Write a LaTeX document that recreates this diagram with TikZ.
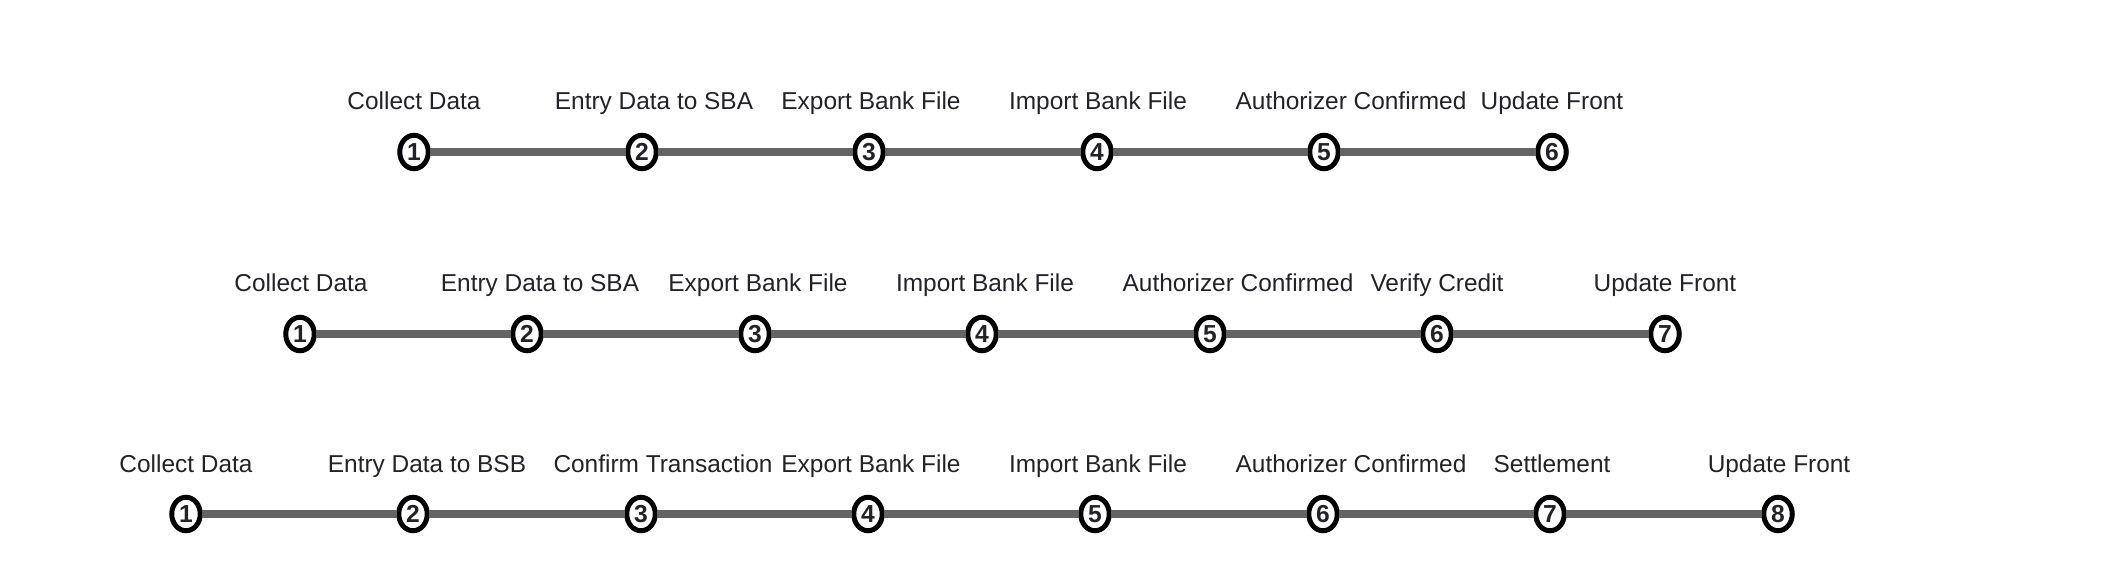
\documentclass[tikz,border=0pt]{standalone}
\usepackage{fontspec}
\setmainfont{Liberation Sans}
\usepackage{tikz}
\usetikzlibrary{shapes.geometric, positioning}
\definecolor{linkgray}{RGB}{100, 100, 100}
\definecolor{textdark}{RGB}{34, 34, 40}

\begin{document}
\begin{tikzpicture}[
    x=0.02cm, y=-0.02cm,
    stepdot/.style={draw=black, line width=0.1cm, fill=white, ellipse, inner sep=0pt, minimum width=0.57cm, minimum height=0.67cm, outer sep=0.03cm, font=\fontsize{14}{16}\selectfont\bfseries, text=textdark},
    steplabel/.style={font=\fontsize{13.9}{16}\selectfont, text=textdark, inner sep=0pt, text height=0.35cm, text depth=0cm},
    link/.style={draw=linkgray, line width=0.15cm},
]
    \useasboundingbox (0,0) rectangle (2110,588);

    % First flow
    \node[stepdot] (a1) at (414, 152) {1};
    \node[stepdot] (a2) at (642, 152) {2};
    \node[stepdot] (a3) at (869, 152) {3};
    \node[stepdot] (a4) at (1097, 152) {4};
    \node[stepdot] (a5) at (1324, 152) {5};
    \node[stepdot] (a6) at (1552, 152) {6};

    \node[steplabel] (la1) at (414, 101) {Collect Data};
    \node[steplabel] (la2) at (654, 101) {Entry Data to SBA};
    \node[steplabel] (la3) at (871, 101) {Export Bank File};
    \node[steplabel] (la4) at (1098, 101) {Import Bank File};
    \node[steplabel] (la5) at (1351, 101) {Authorizer Confirmed};
    \node[steplabel] (la6) at (1552, 101) {Update Front};

    \draw[link] (a1) -- (a2);
    \draw[link] (a2) -- (a3);
    \draw[link] (a3) -- (a4);
    \draw[link] (a4) -- (a5);
    \draw[link] (a5) -- (a6);

    % Second flow
    \node[stepdot] (b1) at (300, 334) {1};
    \node[stepdot] (b2) at (527, 334) {2};
    \node[stepdot] (b3) at (755, 334) {3};
    \node[stepdot] (b4) at (982, 334) {4};
    \node[stepdot] (b5) at (1210, 334) {5};
    \node[stepdot] (b6) at (1437, 334) {6};
    \node[stepdot] (b7) at (1665, 334) {7};

    \node[steplabel] (lb1) at (301, 283) {Collect Data};
    \node[steplabel] (lb2) at (540, 283) {Entry Data to SBA};
    \node[steplabel] (lb3) at (758, 283) {Export Bank File};
    \node[steplabel] (lb4) at (985, 283) {Import Bank File};
    \node[steplabel] (lb5) at (1238, 283) {Authorizer Confirmed};
    \node[steplabel] (lb6) at (1437, 283) {Verify Credit};
    \node[steplabel] (lb7) at (1665, 283) {Update Front};

    \draw[link] (b1) -- (b2);
    \draw[link] (b2) -- (b3);
    \draw[link] (b3) -- (b4);
    \draw[link] (b4) -- (b5);
    \draw[link] (b5) -- (b6);
    \draw[link] (b6) -- (b7);

    % Third flow
    \node[stepdot] (c1) at (186, 514) {1};
    \node[stepdot] (c2) at (413, 514) {2};
    \node[stepdot] (c3) at (641, 514) {3};
    \node[stepdot] (c4) at (868, 514) {4};
    \node[stepdot] (c5) at (1095, 514) {5};
    \node[stepdot] (c6) at (1323, 514) {6};
    \node[stepdot] (c7) at (1550, 514) {7};
    \node[stepdot] (c8) at (1778, 514) {8};

    \node[steplabel] (lc1) at (186, 464) {Collect Data};
    \node[steplabel] (lc2) at (427, 464) {Entry Data to BSB};
    \node[steplabel] (lc3) at (663, 464) {Confirm Transaction};
    \node[steplabel] (lc4) at (871, 464) {Export Bank File};
    \node[steplabel] (lc5) at (1098, 464) {Import Bank File};
    \node[steplabel] (lc6) at (1351, 464) {Authorizer Confirmed};
    \node[steplabel] (lc7) at (1552, 464) {Settlement};
    \node[steplabel] (lc8) at (1779, 464) {Update Front};

    \draw[link] (c1) -- (c2);
    \draw[link] (c2) -- (c3);
    \draw[link] (c3) -- (c4);
    \draw[link] (c4) -- (c5);
    \draw[link] (c5) -- (c6);
    \draw[link] (c6) -- (c7);
    \draw[link] (c7) -- (c8);

\end{tikzpicture}
\end{document}
